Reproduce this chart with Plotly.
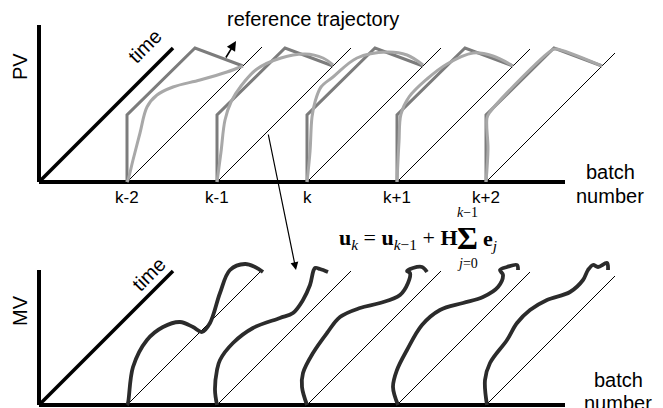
import plotly.graph_objects as go

# ---------------- data ----------------
batch_labels = ["k-2", "k-1", "k", "k+1", "k+2"]
batch_x = [127, 217, 307, 397, 486]          # batch positions along the batch axis
diag_len = [135, 134, 134, 133, 129]          # length of each batch's time axis
top_base, bottom_base = 182, 405              # baselines of PV and MV panels

# reference trajectory (offset along time, rise)
ref_dx = [0, 0, 68, 116]
ref_up = [0, 67, 134, 116]

# measured PV per batch
pv_dx = [
    [0, 1, 6, 13, 20, 30, 46, 73, 100, 116],
    [0, 4, 8, 14, 24, 40, 64, 88, 106, 116],
    [0, 3, 5, 8, 14, 26, 50, 80, 100, 116],
    [0, 2, 4, 12, 30, 50, 76, 96, 116],
    [0, 2, 1, 4, 66, 70, 116],
]
pv_up = [
    [0, 2, 22, 49, 75, 87, 95, 102, 110, 116],
    [0, 30, 62, 80, 96, 113, 124, 128, 124, 117],
    [0, 30, 65, 80, 95, 105, 124, 130, 127, 117],
    [0, 40, 68, 85, 103, 118, 129, 126, 116],
    [0, 33, 64, 70, 132, 133, 116],
]

# manipulated variable MV per batch
mv_dx = [
    [0, 1, 6, 20, 36, 53, 66, 75, 83, 93, 103, 118, 128, 136],
    [0, -2, 0, 3, 16, 36, 63, 76, 86, 93, 98, 103, 111],
    [0, -5, -4, 6, 20, 33, 53, 73, 93, 101, 103, 100, 106, 115, 120],
    [1, -4, 0, 10, 25, 43, 66, 86, 101, 106, 103, 110, 120, 121],
    [1, -1, 4, 21, 31, 44, 61, 84, 97, 102, 107, 112, 121, 122],
]
mv_up = [
    [0, 2, 38, 65, 78, 83, 78, 73, 82, 112, 135, 141, 138, 133],
    [0, 15, 35, 45, 62, 77, 87, 92, 105, 120, 137, 136, 133],
    [0, 18, 32, 52, 72, 88, 97, 102, 110, 122, 132, 134, 137, 138, 133],
    [0, 18, 35, 55, 80, 95, 102, 108, 118, 130, 135, 138, 140, 135],
    [0, 25, 42, 65, 82, 95, 105, 113, 125, 135, 140, 138, 142, 135],
]

# ---------------- figure ----------------
fig = go.Figure()
BLACK = "#000000"
REF = "#7c7c7c"
PV = "#a8a8a8"
MV = "#2b2b2b"


def add(xs, ys, color, width, shape="linear"):
    fig.add_trace(go.Scatter(x=xs, y=ys, mode="lines",
                             line=dict(color=color, width=width, shape=shape),
                             hoverinfo="skip", showlegend=False))


for base, top in [(top_base, 25), (bottom_base, 270)]:
    # main axes
    add([39, 39], [top, base], BLACK, 4)
    add([39, 565], [base, base], BLACK, 4)
    add([39, 39 + 134], [base, base - 134], BLACK, 3.5)
    # thin per-batch time axes
    for bx, L in zip(batch_x, diag_len):
        add([bx, bx + L], [base, base - L], BLACK, 1)

# reference and measured PV
for i, bx in enumerate(batch_x):
    add([bx + d for d in ref_dx], [top_base - u for u in ref_up], REF, 3)
for i, bx in enumerate(batch_x):
    add([bx + d for d in pv_dx[i]], [top_base - u for u in pv_up[i]], PV, 3, "spline")

# MV
for i, bx in enumerate(batch_x):
    add([bx + d for d in mv_dx[i]], [bottom_base - u for u in mv_up[i]], MV, 3.8, "spline")

SANS = "Liberation Sans, Arial, sans-serif"
SERIF = "Liberation Serif, Times New Roman, serif"
ann = []


def text(x, y, t, size, angle=0, xanchor="center", font=SANS):
    ann.append(dict(x=x, y=y, xref="x", yref="y", text=t, showarrow=False,
                    textangle=angle, xanchor=xanchor, yanchor="middle",
                    font=dict(family=font, size=size, color="black")))


text(20, 67, "PV", 20, -90)
text(20, 311, "MV", 20, -90)
text(145, 46, "time", 20, -45)
text(149, 274, "time", 20, -45)
text(225, 19, "reference trajectory", 20, xanchor="left")
for bx, lab in zip(batch_x, batch_labels):
    text(bx, 197, lab, 17)
text(610, 172, "batch", 20)
text(610, 196, "number", 20)
text(618, 380, "batch", 20)
text(618, 403, "number", 20)

# formula
text(337, 239, "<b>u</b><sub><i>k</i></sub> = <b>u</b><sub><i>k</i>−1</sub> + <b>H</b>", 22,
     xanchor="left", font=SERIF)
text(467, 238, "<b>Σ</b>", 32, font=SERIF)
text(481, 240, "<b>e</b><sub><i>j</i></sub>", 22, xanchor="left", font=SERIF)
text(467, 212, "<i>k</i>−1", 14, font=SERIF)
text(467, 263, "<i>j</i>=0", 14, font=SERIF)

# arrows
ann.append(dict(x=236, y=41, ax=225, ay=59, xref="x", yref="y", axref="x", ayref="y",
                showarrow=True, arrowhead=2, arrowsize=1.2, arrowwidth=1.6,
                arrowcolor="black", text=""))
ann.append(dict(x=296, y=270, ax=268, ay=133, xref="x", yref="y", axref="x", ayref="y",
                showarrow=True, arrowhead=2, arrowsize=1.3, arrowwidth=1.2,
                arrowcolor="black", text=""))

fig.update_layout(
    width=663, height=408, margin=dict(l=0, r=0, t=0, b=0),
    paper_bgcolor="white", plot_bgcolor="white",
    xaxis=dict(range=[0, 663], visible=False, fixedrange=True),
    yaxis=dict(range=[408, 0], visible=False, fixedrange=True),
    annotations=ann, showlegend=False,
)
fig.write_html("out.html")
